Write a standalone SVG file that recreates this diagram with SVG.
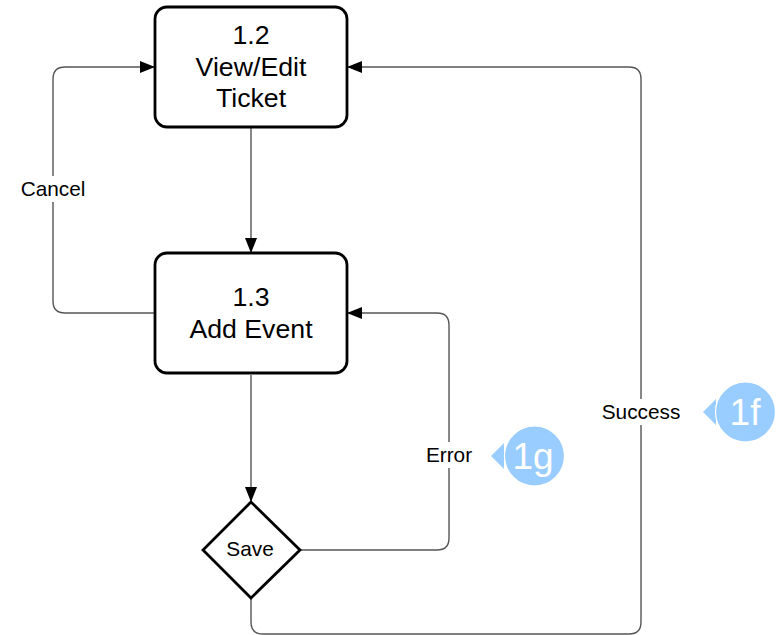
<svg xmlns="http://www.w3.org/2000/svg" width="779" height="635" viewBox="0 0 779 635">
<style>
.n{fill:#fff;stroke:#000;stroke-width:2.8}
.c{fill:none;stroke:#555;stroke-width:1.4}
.t{font-family:"Liberation Sans",Arial,sans-serif;fill:#000;text-anchor:middle}
.b{font-size:26.7px}
.l{font-size:20.8px}
.bt{font-family:"Liberation Sans",Arial,sans-serif;font-size:37px;fill:#fff;text-anchor:middle}
</style>
<defs>
<marker id="a" markerUnits="userSpaceOnUse" markerWidth="16" markerHeight="12" refX="15" refY="6" orient="auto"><path d="M0 0L15 6L0 12Z" fill="#000"/></marker>
</defs>
<rect width="779" height="635" fill="#fff"/>
<g id="connectors">
<path class="c" marker-end="url(#a)" d="M251 128V253"/>
<path class="c" marker-end="url(#a)" d="M251 375V502"/>
<path class="c" marker-end="url(#a)" d="M155 313H65Q53 313 53 301V79Q53 67 65 67H155"/>
<path class="c" marker-end="url(#a)" d="M300 550H437Q449 550 449 538V325Q449 313 437 313H347"/>
<path class="c" marker-end="url(#a)" d="M251 598V622Q251 634 263 634H629Q641 634 641 622V79Q641 67 629 67H347"/>
<rect x="20" y="176" width="66" height="26" fill="#fff"/>
<rect x="425" y="442" width="48" height="26" fill="#fff"/>
<rect x="601" y="399" width="80" height="26" fill="#fff"/>
<text class="t l" x="53" y="196">Cancel</text>
<text class="t l" x="449" y="462">Error</text>
<text class="t l" x="641" y="419">Success</text>
</g>
<g id="node-1-2">
<rect class="n" x="155" y="7" width="192" height="120" rx="12"/>
<text class="t b" x="251" y="44">1.2</text>
<text class="t b" x="251" y="76">View/Edit</text>
<text class="t b" x="251" y="107">Ticket</text>
</g>
<g id="node-1-3">
<rect class="n" x="155" y="253" width="192" height="120" rx="12"/>
<text class="t b" x="251" y="306">1.3</text>
<text class="t b" x="251" y="338">Add Event</text>
</g>
<g id="node-save">
<path class="n" d="M251 502L300 550L251 598L203 550Z"/>
<text class="t l" x="250" y="556">Save</text>
</g>
<g id="badge-1g">
<path d="M491 456L504 443V469Z" fill="#99ccff"/>
<circle cx="534.5" cy="456" r="30" fill="#99ccff" stroke="#fff" stroke-width="1.2"/>
<text class="bt" x="533" y="469">1g</text>
</g>
<g id="badge-1f">
<path d="M703 412L716 399V425Z" fill="#99ccff"/>
<circle cx="745.500" cy="412" r="30" fill="#99ccff" stroke="#fff" stroke-width="1.2"/>
<text class="bt" x="745" y="425">1f</text>
</g>
</svg>
